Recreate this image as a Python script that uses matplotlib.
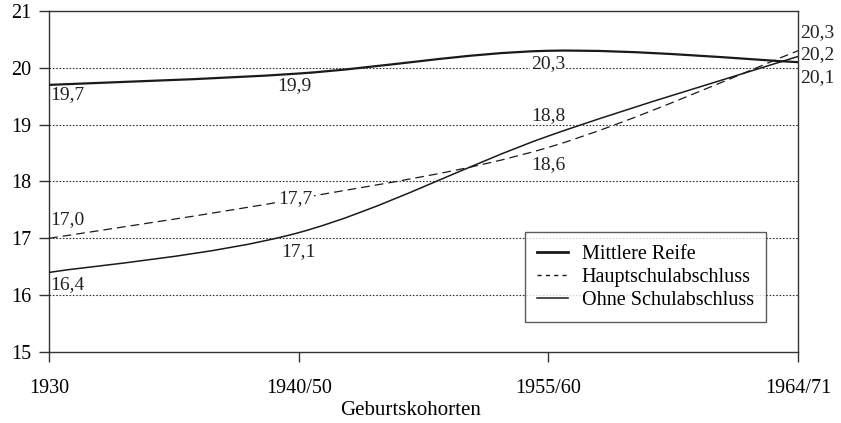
import matplotlib
matplotlib.use("Agg")
import matplotlib.pyplot as plt
import numpy as np
from matplotlib.path import Path
from matplotlib.patches import PathPatch
from matplotlib.lines import Line2D

plt.rcParams['font.family'] = ['Liberation Serif', 'DejaVu Serif']

kohorten = ['1930', '1940/50', '1955/60', '1964/71']
mittlere_reife = [19.7, 19.9, 20.3, 20.1]
hauptschule = [17.0, 17.7, 18.6, 20.3]
ohne_abschluss = [16.4, 17.1, 18.8, 20.2]
namen = ['Mittlere Reife', 'Hauptschulabschluss', 'Ohne Schulabschluss']


def smooth_path(xs, ys):
    # Excel-style smoothed line as cubic Bezier segments
    pts = np.column_stack([xs, ys]).astype(float)
    n = len(pts)
    verts = [pts[0]]
    codes = [Path.MOVETO]
    for i in range(n - 1):
        prev = pts[max(i - 1, 0)]
        nxt = pts[min(i + 2, n - 1)]
        c1 = pts[i] + (pts[i + 1] - prev) / 6
        c2 = pts[i + 1] - (nxt - pts[i]) / 6
        verts += [c1, c2, pts[i + 1]]
        codes += [Path.CURVE4] * 3
    return Path(verts, codes)


fig = plt.figure(figsize=(8.41, 4.23), dpi=100)
ax = fig.add_axes([49 / 841, 71 / 423, 749 / 841, 341 / 423])

x = np.arange(len(kohorten))
styles = [
    dict(lw=1.6, ls='-'),
    dict(lw=0.9, ls=(0, (7, 4))),
    dict(lw=1.1, ls='-'),
]
for ys, st in zip([mittlere_reife, hauptschule, ohne_abschluss], styles):
    ax.add_patch(PathPatch(smooth_path(x, ys), fill=False, color='#1a1a1a',
                           zorder=3, capstyle='butt', **st))

ax.set_xlim(0, 3)
ax.set_ylim(15, 21)
ax.set_yticks(range(15, 22))
ax.set_xticks(x)
ax.set_xticklabels(kohorten)
for yv in range(16, 21):
    ax.axhline(yv, color='#333333', lw=0.8, ls=(0, (1.5, 1.5)), zorder=1)

for s in ax.spines.values():
    s.set_color('#333333')
    s.set_linewidth(1.0)
ax.tick_params(axis='both', direction='out', length=7.5, width=1.0,
               color='#333333', labelsize=14.5, pad=12)
ax.tick_params(axis='y', pad=5)
ax.set_xlabel('Geburtskohorten', fontsize=15)
ax.xaxis.set_label_coords(0.483, -0.145)


def fmt(v):
    return f'{v:.1f}'.replace('.', ',')


fs = 14
bbox = dict(facecolor='white', edgecolor='none', pad=0.5)
lab = [
    (0, mittlere_reife[0], (1, -1), 'left', 'top', None),
    (1, mittlere_reife[1], (-4, -4), 'center', 'top', None),
    (2, mittlere_reife[2], (0, -4), 'center', 'top', bbox),
    (3, mittlere_reife[3], (2, -15), 'left', 'center', None),
    (0, hauptschule[0], (1, 10), 'left', 'bottom', None),
    (1, hauptschule[1], (-3, 0), 'center', 'center', bbox),
    (2, hauptschule[2], (0, -9), 'center', 'top', None),
    (3, hauptschule[3], (2, 18), 'left', 'center', None),
    (0, ohne_abschluss[0], (1, -4), 'left', 'top', None),
    (1, ohne_abschluss[1], (0, -10), 'center', 'top', None),
    (2, ohne_abschluss[2], (0, 12), 'center', 'bottom', None),
    (3, ohne_abschluss[3], (2, 2), 'left', 'center', None),
]
for xi, yv, off, ha, va, bb in lab:
    ax.annotate(fmt(yv), (xi, yv), xytext=off, textcoords='offset pixels',
                ha=ha, va=va, fontsize=fs, color='#222222', bbox=bb,
                zorder=4, annotation_clip=False)

handles = [Line2D([], [], color='#1a1a1a', lw=2.0),
           Line2D([], [], color='#1a1a1a', lw=1.0, ls=(0, (3, 3))),
           Line2D([], [], color='#1a1a1a', lw=1.1)]
leg = ax.legend(handles, namen, loc='lower left', bbox_to_anchor=(0.636, 0.088),
                fontsize=14.5, frameon=True, fancybox=False, edgecolor='#333333',
                handlelength=1.5, borderpad=0.6, labelspacing=0.2,
                handletextpad=0.7, borderaxespad=0)
leg.get_frame().set_linewidth(1.0)
leg.set_zorder(5)

fig.savefig('out.png', dpi=100)
